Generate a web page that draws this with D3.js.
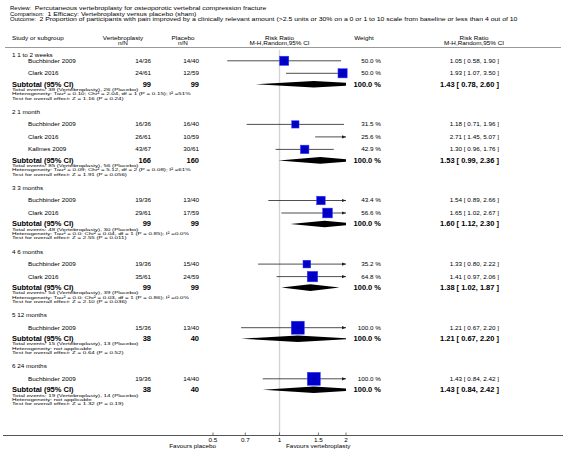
<!DOCTYPE html>
<html><head><meta charset="utf-8">
<script src="https://cdn.jsdelivr.net/npm/d3@7/dist/d3.min.js"></script>
<style>
html,body{margin:0;padding:0;background:#fff;}
svg{display:block;}
text{font-family:"Liberation Sans",Arial,sans-serif;fill:#000;}
</style></head>
<body>
<svg id="chart" width="566" height="465"></svg>
<script>
// ---------- DATA ----------
const headerLabels = ["Review:", "Comparison:", "Outcome:"];
const headerValues = [
  "Percutaneous vertebroplasty for osteoporotic vertebral compression fracture",
  "1 Efficacy: Vertebroplasty versus placebo (sham)",
  "2 Proportion of participants with pain improved by a clinically relevant amount (>2.5 units or 30% on a 0 or 1 to 10 scale from baseline or less than 4 out of 10"
];
const groupNames = ["1 1 to 2 weeks", "2 1 month", "3 3 months", "4 6 months", "5 12 months", "6 24 months"];
const studyGroup = [0, 0, 1, 1, 1, 2, 2, 3, 3, 4, 5];
const studyNames = ["Buchbinder 2009", "Clark 2016", "Buchbinder 2009", "Clark 2016", "Kallmes 2009",
  "Buchbinder 2009", "Clark 2016", "Buchbinder 2009", "Clark 2016", "Buchbinder 2009", "Buchbinder 2009"];
const vertEvents = [14, 24, 16, 26, 43, 19, 29, 19, 35, 15, 19];
const vertTotal  = [36, 61, 36, 61, 67, 36, 61, 36, 61, 36, 36];
const placEvents = [14, 12, 16, 10, 30, 13, 17, 15, 24, 13, 14];
const placTotal  = [40, 59, 40, 59, 61, 40, 59, 40, 59, 40, 40];
const studyWeight = [50.0, 50.0, 31.5, 25.6, 42.9, 43.4, 56.6, 35.2, 64.8, 100.0, 100.0];
const studyRR   = [1.05, 1.93, 1.18, 2.71, 1.30, 1.54, 1.65, 1.33, 1.41, 1.21, 1.43];
const studyLow  = [0.58, 1.07, 0.71, 1.45, 0.96, 0.89, 1.02, 0.80, 0.97, 0.67, 0.84];
const studyHigh = [1.90, 3.50, 1.96, 5.07, 1.76, 2.66, 2.67, 2.22, 2.06, 2.20, 2.42];
const subVertN = [99, 166, 99, 99, 38, 38];
const subPlacN = [99, 160, 99, 99, 40, 40];
const subRR   = [1.43, 1.53, 1.60, 1.38, 1.21, 1.43];
const subLow  = [0.78, 0.99, 1.12, 1.02, 0.67, 0.84];
const subHigh = [2.60, 2.36, 2.30, 1.87, 2.20, 2.42];
const totalEventsText = [
  "Total events: 38 (Vertebroplasty), 26 (Placebo)",
  "Total events: 85 (Vertebroplasty), 56 (Placebo)",
  "Total events: 48 (Vertebroplasty), 30 (Placebo)",
  "Total events: 54 (Vertebroplasty), 39 (Placebo)",
  "Total events: 15 (Vertebroplasty), 13 (Placebo)",
  "Total events: 19 (Vertebroplasty), 14 (Placebo)"];
const heterogeneityText = [
  "Heterogeneity: Tau² = 0.10; Chi² = 2.04, df = 1 (P = 0.15); I² =51%",
  "Heterogeneity: Tau² = 0.09; Chi² = 5.12, df = 2 (P = 0.08); I² =61%",
  "Heterogeneity: Tau² = 0.0; Chi² = 0.04, df = 1 (P = 0.85); I² =0.0%",
  "Heterogeneity: Tau² = 0.0; Chi² = 0.03, df = 1 (P = 0.86); I² =0.0%",
  "Heterogeneity: not applicable",
  "Heterogeneity: not applicable"];
const overallEffectText = [
  "Test for overall effect: Z = 1.16 (P = 0.24)",
  "Test for overall effect: Z = 1.91 (P = 0.056)",
  "Test for overall effect: Z = 2.55 (P = 0.011)",
  "Test for overall effect: Z = 2.10 (P = 0.036)",
  "Test for overall effect: Z = 0.64 (P = 0.52)",
  "Test for overall effect: Z = 1.32 (P = 0.19)"];
const axisTicks = [0.5, 0.7, 1, 1.5, 2];
const axisTickLabels = ["0.5", "0.7", "1", "1.5", "2"];
const favoursLeft = "Favours placebo";
const favoursRight = "Favours vertebroplasty";

// ---------- LAYOUT ----------
const svg = d3.select("#chart");
const fs = 5.6, fsTitle = 6.0, fsBold = 7.0, fsBoldVal = 6.4;
const SX = 1.13;
const xLeft = 12, xStudy = 28, xVertEnd = 151, xPlacEnd = 199, xWeightEnd = 381, xRREnd = 499;
const x = d3.scaleLog().domain([0.5, 2]).range([213, 346]);
const yAxis = 435.5;

const L = {firstHead: 55.3, firstGap: 5.5, headGap: 12.5, rowH: 12.5, subGap: 11, l1: 5.2, l2: 9.5, l3: 13.8, groupGap: 13.8};
const studyY = [], groupY = [], subY = [];
let cur = L.firstHead;
groupNames.forEach((g, gi) => {
  groupY.push(cur);
  cur += gi === 0 ? L.firstGap : L.headGap;
  const idx = studyGroup.map((s, i) => s === gi ? i : -1).filter(i => i >= 0);
  idx.forEach((si, k) => { studyY[si] = cur; if (k < idx.length - 1) cur += L.rowH; });
  cur += L.subGap;
  subY.push(cur);
  cur += L.l3 + L.groupGap;
});

function txt(xp, yp, s, opts = {}) {
  const sy = opts.sy || 1, sx = opts.sx || SX;
  return svg.append("text")
    .attr("transform", `translate(${xp},${yp}) scale(${sx},${sy})`)
    .attr("dy", "0.35em")
    .attr("font-size", opts.size || fs).attr("font-weight", opts.bold ? "bold" : "normal")
    .attr("text-anchor", opts.anchor || "start").text(s);
}

// header
headerLabels.forEach((h, i) => {
  const yy = 8.6 + i * 5.2;
  const lab = txt(10, yy, h, {size: fsTitle, sy: 0.85, sx: 1.0});
  const w = lab.node().getComputedTextLength();
  txt(10 + w + 3.5, yy, headerValues[i], {size: fsTitle, sy: 0.85, sx: 1.15});
});
txt(xLeft, 38, "Study or subgroup");
txt(123, 38, "Vertebroplasty", {anchor: "middle"});
txt(123, 43.5, "n/N", {anchor: "middle"});
txt(183, 38, "Placebo", {anchor: "middle"});
txt(183, 43.5, "n/N", {anchor: "middle"});
txt(x(1), 38, "Risk Ratio", {anchor: "middle"});
txt(x(1), 43.5, "M-H,Random,95% CI", {anchor: "middle"});
txt(364, 38, "Weight", {anchor: "middle"});
txt(474, 38, "Risk Ratio", {anchor: "middle"});
txt(474, 43.5, "M-H,Random,95% CI", {anchor: "middle"});
svg.append("line").attr("x1", 5).attr("x2", 561).attr("y1", 47.5).attr("y2", 47.5)
  .attr("stroke", "#999").attr("stroke-width", 1);

// reference line at 1
svg.append("line").attr("x1", x(1)).attr("x2", x(1)).attr("y1", 50).attr("y2", yAxis)
  .attr("stroke", "#d4d4d4").attr("stroke-width", 1.4);

svg.append("clipPath").attr("id", "plotclip").append("rect")
  .attr("x", x(0.5)).attr("y", 0).attr("width", x(2) - x(0.5)).attr("height", 465);

const fmt2 = d3.format(".2f");
const fmtW = d3.format(".1f");
const maxBox = 13;
const footSy = 0.78, footSx = 1.1;

groupNames.forEach((g, gi) => {
  txt(xLeft, groupY[gi], g);
  txt(xLeft, subY[gi], "Subtotal (95% CI)", {size: fsBold, bold: true, sy: 0.9, sx: 1.07});
  txt(xVertEnd, subY[gi], subVertN[gi], {size: fsBold, bold: true, anchor: "end", sy: 0.9, sx: 1.07});
  txt(xPlacEnd, subY[gi], subPlacN[gi], {size: fsBold, bold: true, anchor: "end", sy: 0.9, sx: 1.07});
  txt(xWeightEnd, subY[gi], "100.0 %", {size: fsBoldVal, bold: true, anchor: "end", sx: 1.17});
  txt(xRREnd, subY[gi], `${fmt2(subRR[gi])} [ ${fmt2(subLow[gi])}, ${fmt2(subHigh[gi])} ]`, {size: fsBoldVal, bold: true, anchor: "end", sx: 1.17});
  txt(xLeft, subY[gi] + L.l1, totalEventsText[gi], {sy: footSy, sx: footSx});
  txt(xLeft, subY[gi] + L.l2, heterogeneityText[gi], {sy: footSy, sx: footSx});
  txt(xLeft, subY[gi] + L.l3, overallEffectText[gi], {sy: footSy, sx: footSx});
  const yy = subY[gi], hh = 3.3;
  svg.append("polygon").attr("clip-path", "url(#plotclip)")
    .attr("points", [[x(subLow[gi]), yy], [x(subRR[gi]), yy - hh], [x(subHigh[gi]), yy], [x(subRR[gi]), yy + hh]].map(p => p.join(",")).join(" "))
    .attr("fill", "#000");
});

studyNames.forEach((s, i) => {
  const yy = studyY[i];
  txt(xStudy, yy, s);
  txt(xVertEnd, yy, `${vertEvents[i]}/${vertTotal[i]}`, {anchor: "end"});
  txt(xPlacEnd, yy, `${placEvents[i]}/${placTotal[i]}`, {anchor: "end"});
  txt(xWeightEnd, yy, `${fmtW(studyWeight[i])} %`, {anchor: "end"});
  txt(xRREnd, yy, `${fmt2(studyRR[i])} [ ${fmt2(studyLow[i])}, ${fmt2(studyHigh[i])} ]`, {anchor: "end"});
  const lo = Math.max(studyLow[i], 0.5), hi = Math.min(studyHigh[i], 2);
  svg.append("line").attr("x1", x(lo)).attr("x2", x(hi)).attr("y1", yy).attr("y2", yy)
    .attr("stroke", "#222").attr("stroke-width", 0.8);
  if (studyHigh[i] > 2) {
    const xe = x(2);
    svg.append("path").attr("d", `M${xe},${yy} L${xe - 4},${yy - 1.6} L${xe - 4},${yy + 1.6} Z`).attr("fill", "#222");
  }
  if (studyLow[i] < 0.5) {
    const xs = x(0.5);
    svg.append("path").attr("d", `M${xs},${yy} L${xs + 4},${yy - 1.6} L${xs + 4},${yy + 1.6} Z`).attr("fill", "#222");
  }
  if (studyRR[i] >= 0.5 && studyRR[i] <= 2) {
    const side = maxBox * Math.sqrt(studyWeight[i] / 100);
    svg.append("rect").attr("x", x(studyRR[i]) - side / 2).attr("y", yy - side / 2)
      .attr("width", side).attr("height", side).attr("fill", "#0000cc")
      .attr("stroke", "#3a3aff").attr("stroke-width", 0.5);
    svg.append("line").attr("x1", x(studyRR[i])).attr("x2", x(studyRR[i]))
      .attr("y1", yy - 1).attr("y2", yy + 1).attr("stroke", "#000").attr("stroke-width", 0.5);
  }
});

svg.append("line").attr("x1", 3).attr("x2", 563).attr("y1", yAxis).attr("y2", yAxis)
  .attr("stroke", "#555").attr("stroke-width", 1);
axisTicks.forEach((t, i) => {
  svg.append("line").attr("x1", x(t)).attr("x2", x(t)).attr("y1", yAxis - 3).attr("y2", yAxis)
    .attr("stroke", "#555").attr("stroke-width", 0.8);
  txt(x(t), yAxis + 4.5, axisTickLabels[i], {anchor: "middle"});
});
txt(216, yAxis + 10.5, favoursLeft, {anchor: "end"});
txt(286, yAxis + 10.5, favoursRight, {anchor: "start"});
</script>
</body></html>
